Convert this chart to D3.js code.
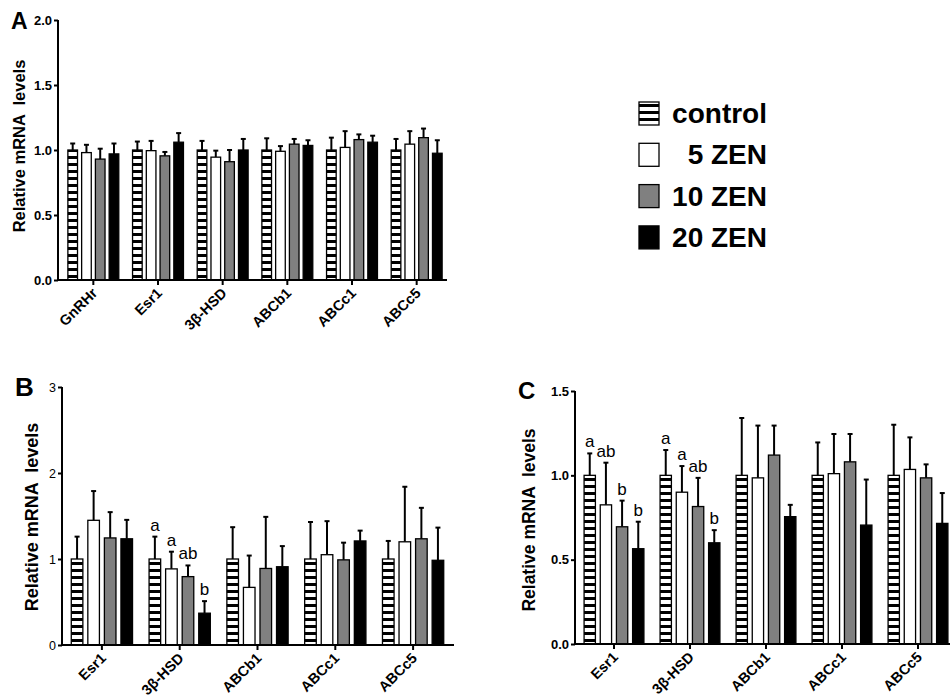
<!DOCTYPE html>
<html>
<head>
<meta charset="utf-8" />
<title>ZEN mRNA levels</title>
<script src="https://d3js.org/d3.v7.min.js"></script>
<style>
  body { margin: 0; background: white; }
  svg { font-family: "Liberation Sans", Arial, sans-serif; }
</style>
</head>
<body>
<svg id="fig" width="950" height="700"></svg>

<script>
// groups (legend order)
var series = ["control", "5 ZEN", "10 ZEN", "20 ZEN"];

// Panel A
var genesA = ["GnRHr", "Esr1", "3\u03B2-HSD", "ABCb1", "ABCc1", "ABCc5"];
var meanA = [
  [1.00, 0.98, 0.93, 0.97],
  [1.00, 0.995, 0.955, 1.06],
  [1.00, 0.945, 0.91, 1.00],
  [1.00, 0.99, 1.045, 1.035],
  [1.00, 1.02, 1.08, 1.06],
  [1.00, 1.045, 1.095, 0.975]
];
var semA = [
  [0.05, 0.06, 0.08, 0.08],
  [0.065, 0.075, 0.03, 0.07],
  [0.07, 0.05, 0.09, 0.085],
  [0.09, 0.04, 0.04, 0.04],
  [0.095, 0.125, 0.04, 0.05],
  [0.085, 0.10, 0.07, 0.10]
];
var ticksA = [0, 0.5, 1.0, 1.5, 2.0];

// Panel B
var genesB = ["Esr1", "3\u03B2-HSD", "ABCb1", "ABCc1", "ABCc5"];
var meanB = [
  [1.00, 1.45, 1.245, 1.235],
  [1.00, 0.885, 0.795, 0.37],
  [1.00, 0.67, 0.89, 0.91],
  [1.00, 1.05, 0.99, 1.21],
  [1.00, 1.20, 1.235, 0.985]
];
var semB = [
  [0.26, 0.34, 0.30, 0.22],
  [0.26, 0.20, 0.13, 0.14],
  [0.37, 0.37, 0.60, 0.24],
  [0.43, 0.39, 0.20, 0.12],
  [0.21, 0.64, 0.36, 0.38]
];
var lettersB = [
  ["", "", "", ""],
  ["a", "a", "ab", "b"],
  ["", "", "", ""],
  ["", "", "", ""],
  ["", "", "", ""]
];
var ticksB = [0, 1, 2, 3];

// Panel C
var genesC = ["Esr1", "3\u03B2-HSD", "ABCb1", "ABCc1", "ABCc5"];
var meanC = [
  [1.00, 0.825, 0.695, 0.565],
  [1.00, 0.90, 0.815, 0.60],
  [1.00, 0.985, 1.12, 0.755],
  [1.00, 1.01, 1.08, 0.705],
  [1.00, 1.035, 0.985, 0.715]
];
var semC = [
  [0.13, 0.25, 0.155, 0.16],
  [0.15, 0.155, 0.17, 0.075],
  [0.34, 0.31, 0.175, 0.07],
  [0.195, 0.235, 0.165, 0.27],
  [0.30, 0.19, 0.08, 0.18]
];
var lettersC = [
  ["a", "ab", "b", "b"],
  ["a", "a", "ab", "b"],
  ["", "", "", ""],
  ["", "", "", ""],
  ["", "", "", ""]
];
var ticksC = [0, 0.5, 1.0, 1.5];

var svg = d3.select("#fig");

// striped fill for control
var defs = svg.append("defs");
var pat = defs.append("pattern")
    .attr("id", "stripes")
    .attr("patternUnits", "userSpaceOnUse")
    .attr("width", 7).attr("height", 7);
pat.append("rect").attr("width", 7).attr("height", 7).attr("fill", "white");
pat.append("rect").attr("y", 2).attr("width", 7).attr("height", 3).attr("fill", "black");

var fills = {"control": "url(#stripes)", "5 ZEN": "white", "10 ZEN": "#808080", "20 ZEN": "black"};

function drawPanel(p) {
    var g = svg.append("g");

    var x = d3.scaleBand().domain(p.genes).range(p.xRange);
    var xs = d3.scaleBand().domain(series).range([0, x.bandwidth()])
        .paddingInner(0.3).paddingOuter(0.5);
    var y = d3.scaleLinear().domain([0, p.ticks[p.ticks.length - 1]]).range([p.bottom, p.top]);

    // flatten rows into bar records
    var bars = [];
    p.genes.forEach(function(gene, i) {
        series.forEach(function(s, j) {
            bars.push({gene: gene, s: s, mean: p.mean[i][j], sem: p.sem[i][j],
                       letter: p.letters ? p.letters[i][j] : ""});
        });
    });

    function cx(d) { return x(d.gene) + xs(d.s) + xs.bandwidth() / 2; }

    // error bars (upper only)
    var eb = g.selectAll(".err").data(bars).enter().append("g");
    eb.append("line")
        .attr("x1", cx).attr("x2", cx)
        .attr("y1", function(d) { return y(d.mean); })
        .attr("y2", function(d) { return y(d.mean + d.sem); })
        .attr("stroke", "black").attr("stroke-width", 2);
    eb.append("line")
        .attr("x1", function(d) { return cx(d) - 2.5; })
        .attr("x2", function(d) { return cx(d) + 2.5; })
        .attr("y1", function(d) { return y(d.mean + d.sem); })
        .attr("y2", function(d) { return y(d.mean + d.sem); })
        .attr("stroke", "black").attr("stroke-width", 2);

    g.selectAll(".bar").data(bars).enter().append("rect")
        .attr("x", function(d) { return x(d.gene) + xs(d.s); })
        .attr("y", function(d) { return y(d.mean); })
        .attr("width", xs.bandwidth())
        .attr("height", function(d) { return y(0) - y(d.mean); })
        .attr("fill", function(d) { return fills[d.s]; })
        .attr("stroke", "black")
        .attr("stroke-width", 1.3);

    // significance letters
    g.selectAll(".let").data(bars.filter(function(d) { return d.letter; })).enter().append("text")
        .attr("x", cx)
        .attr("y", function(d) { return y(d.mean + d.sem) - 6; })
        .attr("text-anchor", "middle")
        .attr("font-size", 17)
        .text(function(d) { return d.letter; });

    // y axis
    var yAxis = g.append("g")
        .attr("transform", "translate(" + p.axisX + ",0)")
        .call(d3.axisLeft(y).tickValues(p.ticks).tickFormat(d3.format(p.fmt)).tickSize(4).tickSizeOuter(0))
        .attr("font-size", p.tickSize)
        .attr("font-weight", p.tickBold ? "bold" : "normal")
        .attr("font-family", null);
    yAxis.select(".domain").attr("stroke-width", 2).attr("d", "M0," + p.bottom + "V" + p.top);
    yAxis.selectAll(".tick line").attr("stroke-width", 2);
    yAxis.selectAll(".tick text").attr("x", -6);

    // x axis ticks; the gene names are set along 45 degree paths
    var xAxis = g.append("g")
        .attr("transform", "translate(0," + p.bottom + ")")
        .call(d3.axisBottom(x).tickSize(5).tickSizeOuter(0).tickFormat(""));
    xAxis.select(".domain").attr("stroke-width", 2).attr("d", "M" + p.axisX + ",0H" + p.axisEnd);
    xAxis.selectAll(".tick line").attr("stroke-width", 2);

    p.genes.forEach(function(gene, i) {
        var ax = x(gene) + x.bandwidth() / 2 + 5;
        var ay = p.bottom + 14;
        var id = "lab" + p.label + i;
        defs.append("path").attr("id", id)
            .attr("d", "M" + (ax - 120) + "," + (ay + 120) + "L" + ax + "," + ay);
        g.append("text")
            .attr("font-size", 14.5)
            .attr("font-weight", "bold")
          .append("textPath")
            .attr("href", "#" + id)
            .attr("startOffset", "100%")
            .attr("text-anchor", "end")
            .text(gene);
    });

    // axis title
    g.append("g")
        .attr("transform", "translate(" + p.titleX + "," + p.titleY + ")")
      .append("text")
        .attr("transform", "rotate(-90)")
        .attr("text-anchor", "middle")
        .attr("font-size", p.titleSize)
        .attr("font-weight", "bold")
        .text("Relative mRNA \u00A0levels");

    // panel letter
    g.append("text")
        .attr("x", p.labX).attr("y", p.labY)
        .attr("font-size", p.labSize)
        .attr("font-weight", "bold")
        .text(p.label);
}

drawPanel({genes: genesA, mean: meanA, sem: semA, ticks: ticksA, fmt: ".1f",
    xRange: [61, 449], axisX: 58, axisEnd: 447, top: 20, bottom: 280,
    tickSize: 13, tickBold: true, titleX: 25, titleY: 146, titleSize: 16.5,
    label: "A", labX: 11, labY: 29, labSize: 23});

drawPanel({genes: genesB, mean: meanB, sem: semB, letters: lettersB, ticks: ticksB, fmt: "d",
    xRange: [63, 452], axisX: 62, axisEnd: 454, top: 387, bottom: 645,
    tickSize: 12.5, tickBold: false, titleX: 38, titleY: 517, titleSize: 18,
    label: "B", labX: 15, labY: 396, labSize: 26});

drawPanel({genes: genesC, mean: meanC, sem: semC, letters: lettersC, ticks: ticksC, fmt: ".1f",
    xRange: [576, 956], axisX: 575, axisEnd: 960, top: 391, bottom: 644,
    tickSize: 13, tickBold: true, titleX: 535, titleY: 520, titleSize: 17.5,
    label: "C", labX: 518, labY: 399, labSize: 24});

// legend
var leg = svg.append("g").selectAll("g").data(series).enter().append("g")
    .attr("transform", function(d, i) { return "translate(639," + (102 + i * 41.3) + ")"; });
leg.append("rect")
    .attr("width", 20).attr("height", 23)
    .attr("fill", function(d) { return fills[d]; })
    .attr("stroke", "black").attr("stroke-width", 1.3);
leg.append("text")
    .attr("x", 128).attr("y", 21)
    .attr("text-anchor", "end")
    .attr("font-size", 28)
    .attr("font-weight", "bold")
    .text(function(d) { return d; });
</script>
</body>
</html>
